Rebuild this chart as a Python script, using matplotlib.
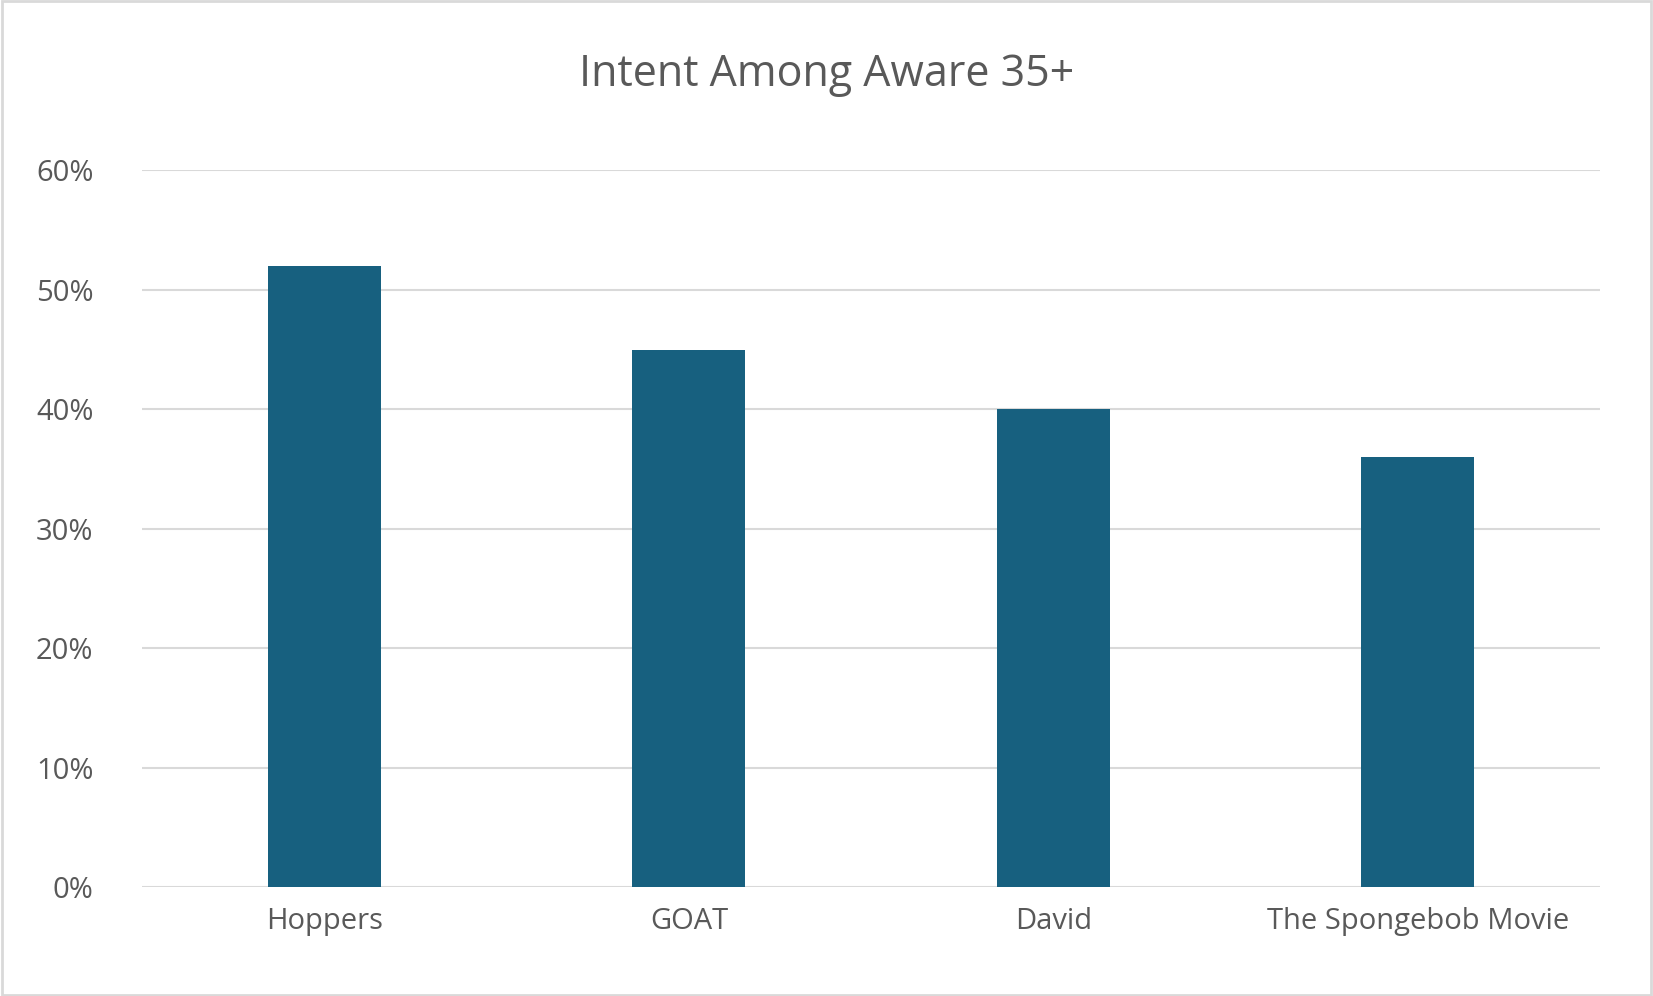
import matplotlib
matplotlib.use("Agg")
import matplotlib.pyplot as plt
from matplotlib.ticker import PercentFormatter
from matplotlib.patches import Rectangle

categories = ["Hoppers", "GOAT", "David", "The Spongebob Movie"]
values = [52, 45, 40, 36]
yticks = [0, 10, 20, 30, 40, 50, 60]

plt.rcParams['font.family'] = ['Open Sans', 'DejaVu Sans']
fig = plt.figure(figsize=(16.53, 9.96), dpi=100)
ax = fig.add_axes([0.086, 0.109, 0.882, 0.720])
ax.bar(range(len(categories)), values, width=0.31, color="#17607F", zorder=3)
ax.set_xlim(-0.5, len(categories) - 0.5)
ax.set_ylim(0, 60)
ax.set_yticks(yticks)
ax.yaxis.set_major_formatter(PercentFormatter(decimals=0))
ax.set_xticks(range(len(categories)))
ax.set_xticklabels(categories)
ax.grid(axis="y", color="#D9D9D9", linewidth=1.5, zorder=0)
for s in ax.spines.values():
    s.set_visible(False)
ax.tick_params(length=0, labelsize=21, colors="#595959", pad=14)
ax.tick_params(axis="y", pad=35)
fig.text(0.5, 0.925, "Intent Among Aware 35+", ha="center", va="center",
         fontsize=31, color="#595959")
fig.patches.append(Rectangle((0.001, 0.001), 0.998, 0.998, transform=fig.transFigure,
                             fill=False, edgecolor="#D9D9D9", linewidth=2))
fig.savefig("out.png", dpi=100)
